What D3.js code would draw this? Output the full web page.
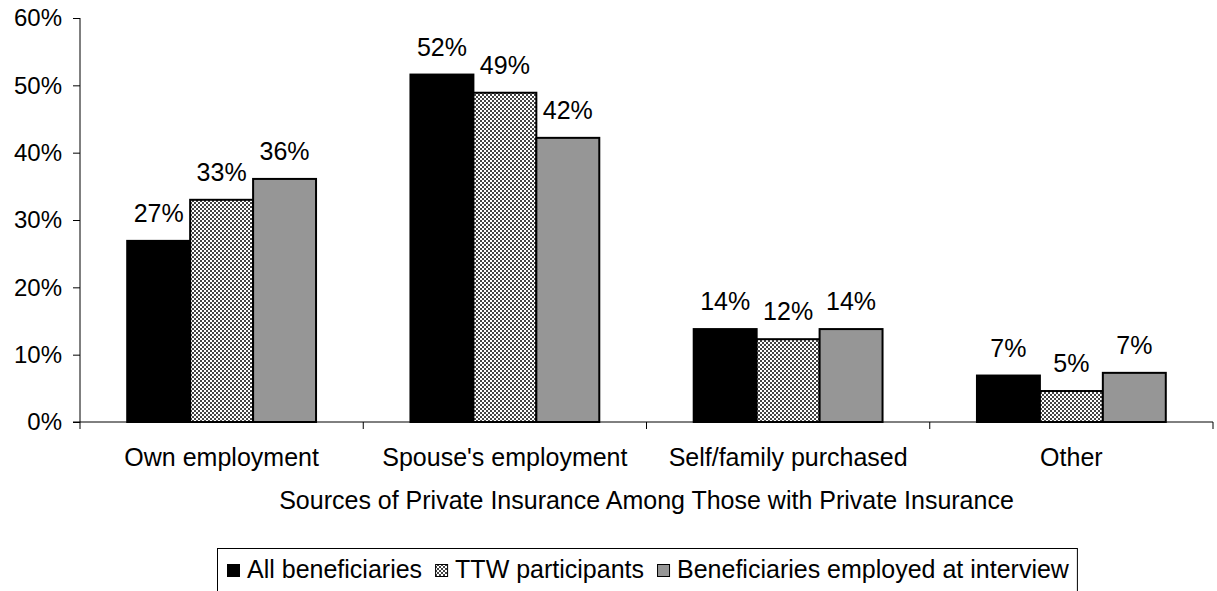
<!DOCTYPE html>
<html lang="en">
	<head>
		<meta charset="utf-8">
		<title>Sources of private insurance</title>
		<script type="text/javascript" src="https://cdn.jsdelivr.net/npm/d3@7"></script>
		<style type="text/css">
			body { margin: 0; background: #fff; }
			text { font-family: "Liberation Sans", Arial, sans-serif; fill: #000; }
		</style>
	</head>
	<body>
		<script type="text/javascript">

			// data
			var categories = ["Own employment", "Spouse's employment", "Self/family purchased", "Other"];
			var seriesNames = ["All beneficiaries", "TTW participants", "Beneficiaries employed at interview"];
			var allBenef = [26.9, 51.6, 13.8, 6.9];
			var ttw = [33.0, 48.9, 12.3, 4.6];
			var employed = [36.1, 42.2, 13.8, 7.3];
			var labels = [["27%", "52%", "14%", "7%"], ["33%", "49%", "12%", "5%"], ["36%", "42%", "14%", "7%"]];
			var yTicks = [0, 10, 20, 30, 40, 50, 60];

			var w = 1217;
			var h = 591;
			var padLeft = 80, padRight = 1213, padTop = 18, padBottom = 422;
			var fontSize = "25px";

			var svg = d3.select("body")
						.append("svg")
						.attr("width", w)
						.attr("height", h);

			// hatched fill for the middle series
			var pat = svg.append("defs").append("pattern")
						 .attr("id", "hatch")
						 .attr("patternUnits", "userSpaceOnUse")
						 .attr("width", 4)
						 .attr("height", 4);
			pat.append("rect").attr("width", 4).attr("height", 4).attr("fill", "#fff");
			pat.append("rect").attr("x", 0).attr("y", 0).attr("width", 2).attr("height", 2).attr("fill", "#444");
			pat.append("rect").attr("x", 2).attr("y", 2).attr("width", 2).attr("height", 2).attr("fill", "#444");

			var fills = ["#000", "url(#hatch)", "#969696"];
			var series = [allBenef, ttw, employed];

			var xScale = d3.scaleBand()
						   .domain(categories)
						   .range([padLeft, padRight]);

			var xInner = d3.scaleBand()
						   .domain(d3.range(series.length))
						   .range([0, xScale.bandwidth()])
						   .paddingOuter(0.75)
						   .paddingInner(0);

			var yScale = d3.scaleLinear()
						   .domain([0, 60])
						   .range([padBottom, padTop]);

			// y axis
			var yAxis = d3.axisLeft(yScale)
						  .tickValues(yTicks)
						  .tickFormat(function(d) { return d + "%"; })
						  .tickSize(7)
						  .tickPadding(11);
			var gy = svg.append("g")
						.attr("transform", "translate(" + padLeft + ",0)")
						.call(yAxis);
			gy.select(".domain").attr("d", "M0," + padTop + "V" + (padBottom + 7)).attr("stroke", "#000");
			gy.selectAll(".tick line").attr("stroke", "#000");
			gy.selectAll("text")
			  .attr("font-size", "24px")
			  .attr("font-family", "Liberation Sans, Arial, sans-serif");

			// bars
			series.forEach(function(vals, si) {
				svg.append("g")
				   .selectAll("rect")
				   .data(vals)
				   .enter()
				   .append("rect")
				   .attr("x", function(d, i) { return xScale(categories[i]) + xInner(si); })
				   .attr("y", function(d) { return yScale(d); })
				   .attr("width", xInner.bandwidth())
				   .attr("height", function(d) { return padBottom - yScale(d); })
				   .attr("fill", fills[si])
				   .attr("stroke", "#000")
				   .attr("stroke-width", 2);

				svg.append("g")
				   .selectAll("text")
				   .data(vals)
				   .enter()
				   .append("text")
				   .text(function(d, i) { return labels[si][i]; })
				   .attr("x", function(d, i) { return xScale(categories[i]) + xInner(si) + xInner.bandwidth() / 2; })
				   .attr("y", function(d) { return yScale(d) - 19; })
				   .attr("text-anchor", "middle")
				   .attr("font-size", fontSize);
			});

			// x axis line with category ticks pointing down
			var xAxis = d3.axisBottom(xScale).tickSize(0).tickPadding(26);
			var gx = svg.append("g")
						.attr("transform", "translate(0," + padBottom + ")")
						.call(xAxis);
			gx.select(".domain").attr("d", "M" + (padLeft - 7) + ",0H" + padRight).attr("stroke", "#000");
			gx.selectAll("text")
			  .attr("font-size", fontSize)
			  .attr("font-family", "Liberation Sans, Arial, sans-serif");
			gx.selectAll(".sep")
			  .data(categories)
			  .enter()
			  .append("line")
			  .attr("class", "sep")
			  .attr("x1", function(d) { return xScale(d) + xScale.bandwidth(); })
			  .attr("x2", function(d) { return xScale(d) + xScale.bandwidth(); })
			  .attr("y1", 0)
			  .attr("y2", 7)
			  .attr("stroke", "#000");

			// axis title
			svg.append("text")
			   .text("Sources of Private Insurance Among Those with Private Insurance")
			   .attr("x", (padLeft + padRight) / 2)
			   .attr("y", 509)
			   .attr("text-anchor", "middle")
			   .attr("font-size", fontSize);

			// legend, laid out then centred under the plot
			var legend = svg.append("g");
			var box = legend.append("rect")
				  .attr("x", 0.5)
				  .attr("y", 548.5)
				  .attr("height", 48)
				  .attr("fill", "none")
				  .attr("stroke", "#000");

			var cursor = 10;
			seriesNames.forEach(function(name, i) {
				legend.append("rect")
					  .attr("x", cursor + 0.5)
					  .attr("y", 564.5)
					  .attr("width", 12)
					  .attr("height", 12)
					  .attr("fill", fills[i])
					  .attr("stroke", "#000")
					  .attr("stroke-width", 1);
				var t = legend.append("text")
					  .text(name)
					  .attr("x", cursor + 20)
					  .attr("y", 578)
					  .attr("font-size", fontSize);
				cursor += 20 + t.node().getComputedTextLength() + 13;
			});
			var legW = cursor - 5;
			box.attr("width", legW);
			legend.attr("transform", "translate(" + Math.round((padLeft + padRight) / 2 - legW / 2) + ",0)");

		</script>
	</body>
</html>
